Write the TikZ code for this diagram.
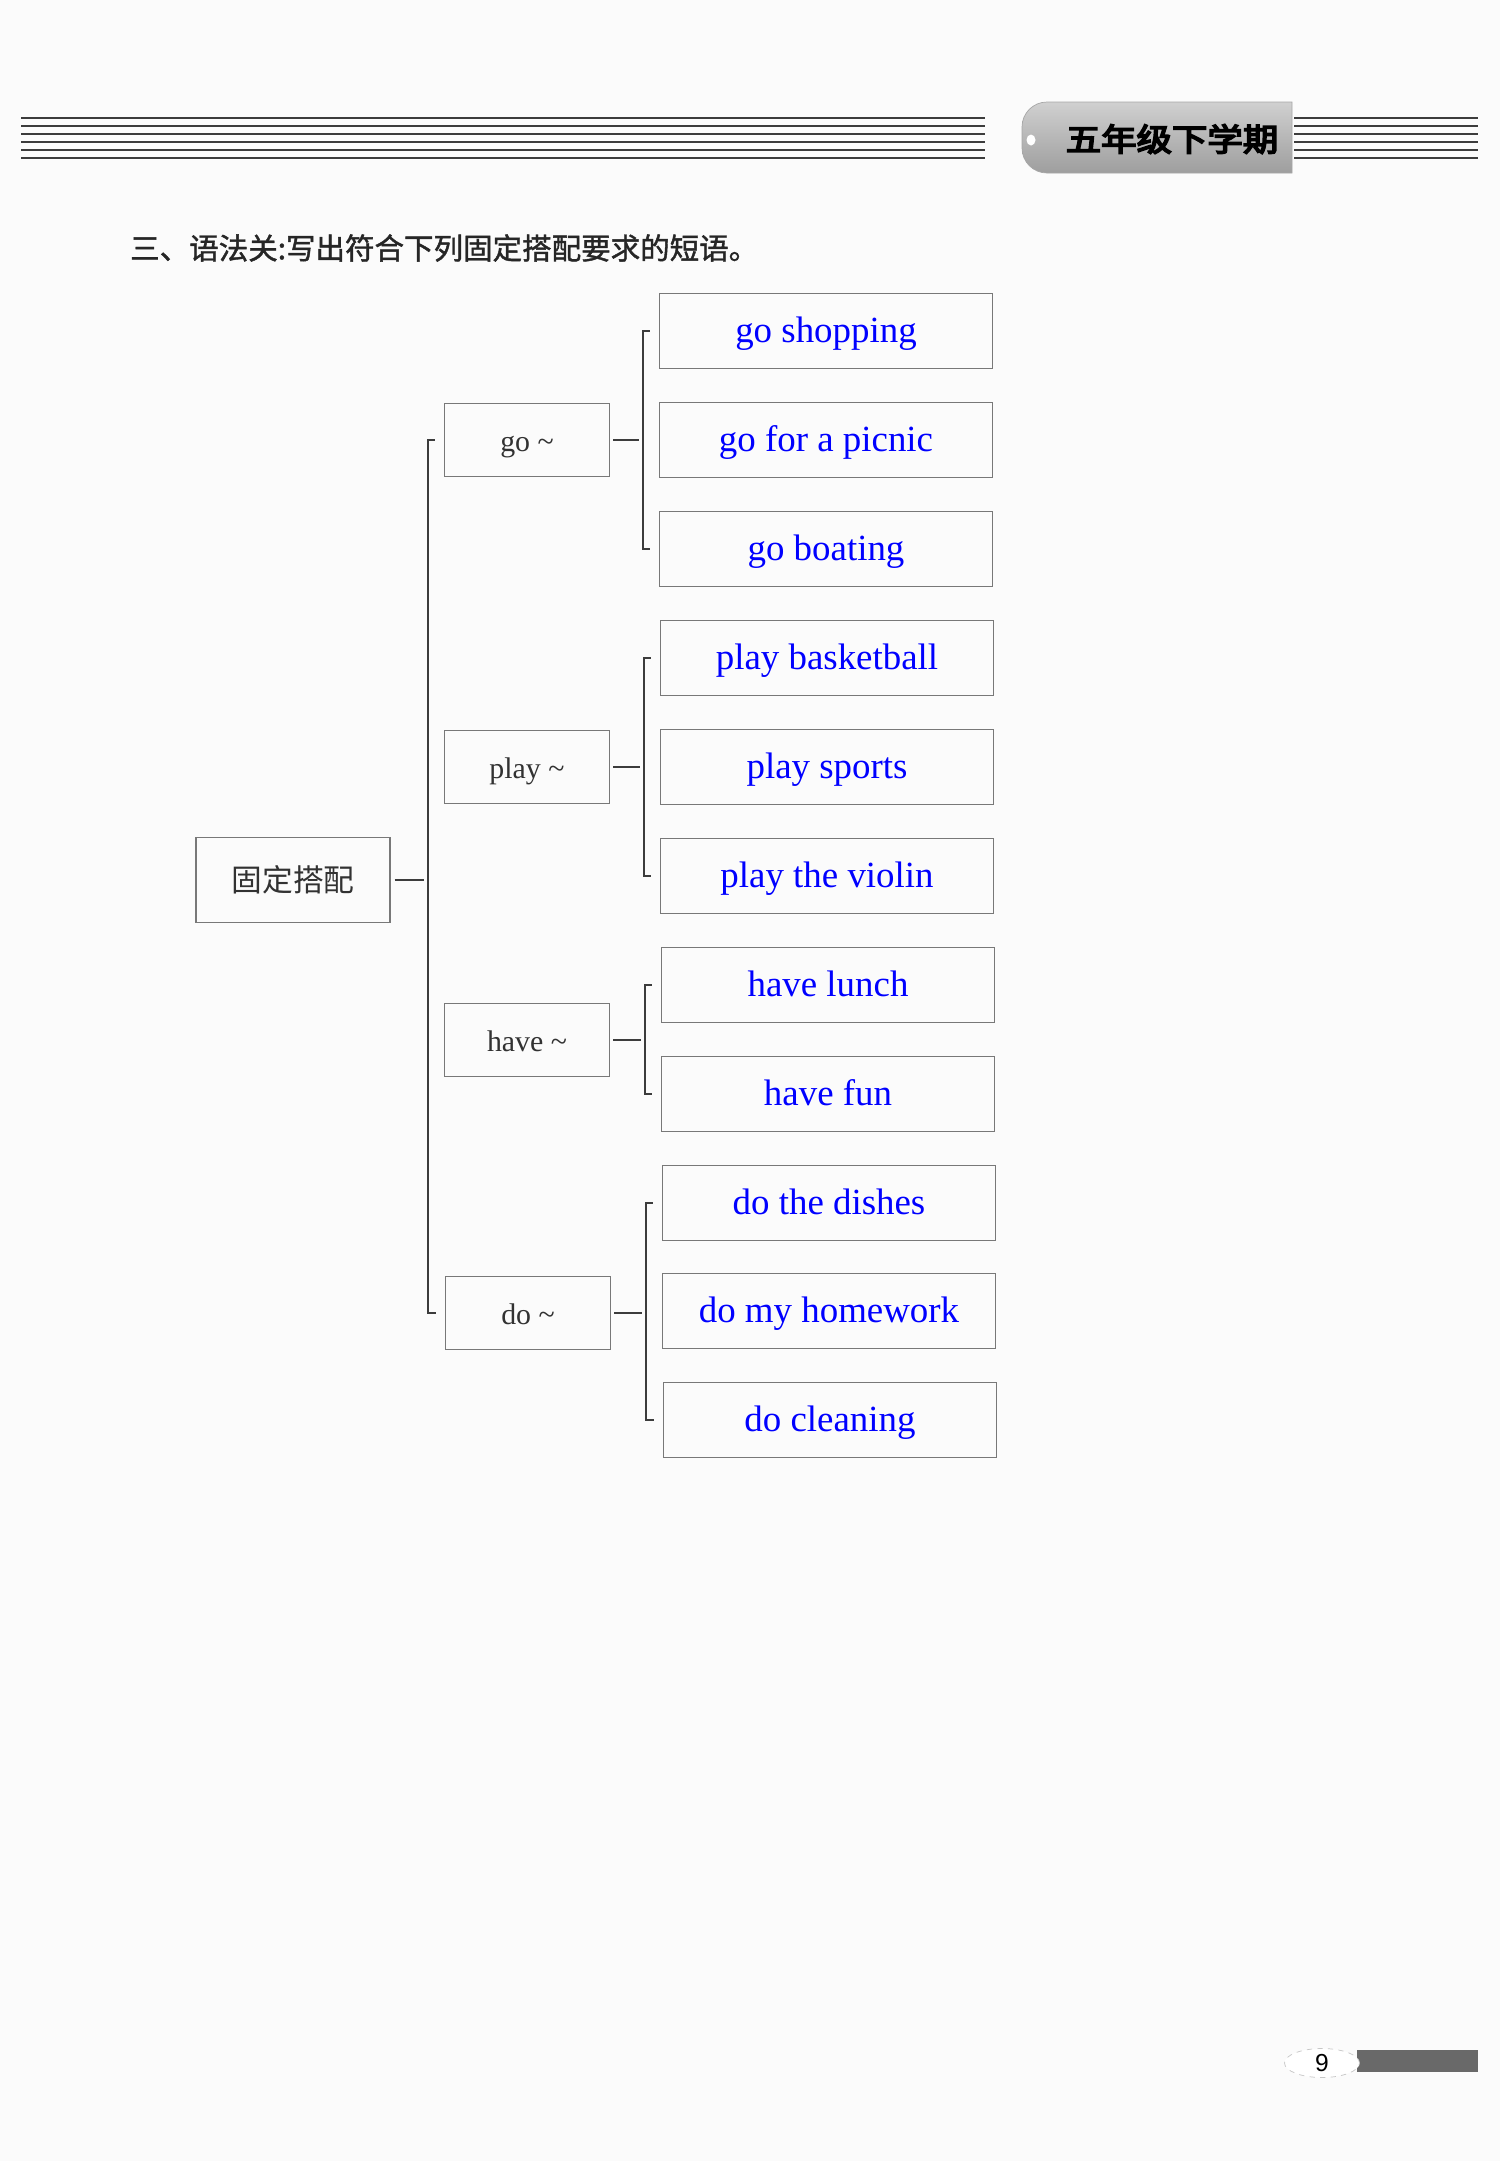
\documentclass[tikz,border=0pt]{standalone}
\usepackage{fontspec}
\setmainfont{Liberation Serif}
\newfontfamily\cjkfont{Noto Sans CJK SC}
\newfontfamily\cjkbold[FakeBold=1.4]{Noto Sans CJK SC}
\newfontfamily\cjkheavy[FakeBold=5]{Noto Sans CJK SC}
\newfontfamily\numfont{Liberation Sans}
\usepackage{tikz}
\usetikzlibrary{shapes.geometric, calc}
\definecolor{pagebg}{RGB}{251,251,251}
\definecolor{boxgray}{RGB}{120,120,120}
\definecolor{linedark}{RGB}{60,60,60}
\definecolor{ansblue}{RGB}{0,0,255}
\definecolor{verbgray}{RGB}{50,50,50}
\definecolor{tablight}{RGB}{208,208,208}
\definecolor{tabdark}{RGB}{158,158,158}
\definecolor{bargray}{RGB}{105,105,105}
\tikzset{
  leafbox/.style={rectangle, draw=boxgray, line width=0.8pt, inner sep=0pt,
    minimum width=6.66cm, minimum height=1.5cm, text=ansblue,
    font=\fontsize{21}{25}\selectfont, text height=1.55em, text depth=0.19em},
  verbbox/.style={rectangle, draw=boxgray, line width=0.8pt, inner sep=0pt,
    minimum width=3.3cm, minimum height=1.46cm, text=verbgray,
    font=\fontsize{17}{20}\selectfont, text height=1.5em, text depth=0.19em},
  rootbox/.style={rectangle, draw=boxgray, line width=0.8pt, inner sep=0pt,
    minimum width=3.88cm, minimum height=1.7cm, text=verbgray,
    font=\cjkfont\fontsize{17.5}{21}\selectfont, text height=1.45em, text depth=0.19em},
  line/.style={line width=1.1pt, color=linedark},
  hdrline/.style={line width=1.4pt, color=linedark}
}

\begin{document}
\begin{tikzpicture}[x=0.02cm, y=-0.02cm]
  \useasboundingbox (0,0) rectangle (1500,2161);
  \fill[pagebg] (0,0) rectangle (1500,2161);

  % header
  \foreach \y in {118,126,134,142,150,158}{
    \draw[hdrline] (21,\y) -- (985,\y);
    \draw[hdrline] (1294,\y) -- (1478,\y);
  }
  \shade[top color=tablight, bottom color=tabdark, draw=gray!70]
    (1292,102) [rounded corners=0.5cm] -- (1022,102) -- (1022,173)
    [sharp corners] -- (1292,173) -- cycle;
  \fill[white] (1031,140) ellipse [x radius=0.09cm, y radius=0.11cm];
  \node[font=\cjkheavy\fontsize{18}{20}\selectfont, xscale=1.12] (term) at (1172,139) {五年级下学期};

  \node[anchor=west, font=\cjkbold\fontsize{16.8}{20}\selectfont, text=black!85] (title) at (124,248)
    {三、语法关:写出符合下列固定搭配要求的短语。};

  \node[rootbox] (root) at (293,880) {固定搭配};

  \node[verbbox] (go) at (527,440) {go \textasciitilde};
  \node[verbbox] (play) at (527,767) {play \textasciitilde};
  \node[verbbox] (have) at (527,1040) {have \textasciitilde};
  \node[verbbox] (do) at (528,1313) {do \textasciitilde};

  \node[leafbox] (goshop) at (826,331) {go shopping};
  \node[leafbox] (gopicnic) at (826,440) {go for a picnic};
  \node[leafbox] (goboat) at (826,549) {go boating};
  \node[leafbox] (playball) at (827,658) {play basketball};
  \node[leafbox] (playsport) at (827,767) {play sports};
  \node[leafbox] (playviolin) at (827,876) {play the violin};
  \node[leafbox] (havelunch) at (828,985) {have lunch};
  \node[leafbox] (havefun) at (828,1094) {have fun};
  \node[leafbox] (dodish) at (829,1203) {do the dishes};
  \node[leafbox] (dowork) at (829,1311) {do my homework};
  \node[leafbox] (doclean) at (830,1420) {do cleaning};

  % trunk
  \coordinate (trunk) at (428,880);
  \draw[line] ($(go.west)+(-9,0)$) -| (trunk) |- ($(do.west)+(-9,0)$);
  \draw[line] ($(root.east)+(4,0)$) -- ($(trunk)+(-4,0)$);

  % brackets
  \coordinate (gojoin) at ($(go.east)+(33,0)$);
  \coordinate (playjoin) at ($(play.east)+(34,0)$);
  \coordinate (havejoin) at ($(have.east)+(35,0)$);
  \coordinate (dojoin) at ($(do.east)+(35,0)$);
  \draw[line] ($(goshop.west)+(-9,0)$) -| (gojoin) |- ($(goboat.west)+(-9,0)$);
  \draw[line] ($(playball.west)+(-9,0)$) -| (playjoin) |- ($(playviolin.west)+(-9,0)$);
  \draw[line] ($(havelunch.west)+(-9,0)$) -| (havejoin) |- ($(havefun.west)+(-9,0)$);
  \draw[line] ($(dodish.west)+(-9,0)$) -| (dojoin) |- ($(doclean.west)+(-9,0)$);
  \draw[line] ($(go.east)+(3,0)$) -- ($(gojoin)+(-4,0)$);
  \draw[line] ($(play.east)+(3,0)$) -- ($(playjoin)+(-4,0)$);
  \draw[line] ($(have.east)+(3,0)$) -- ($(havejoin)+(-4,0)$);
  \draw[line] ($(do.east)+(3,0)$) -- ($(dojoin)+(-4,0)$);

  % page number
  \fill[bargray] (1357,2050) rectangle (1478,2072);
  \node[ellipse, draw=gray!45, dashed, fill=white, inner sep=0pt, minimum width=1.5cm, minimum height=0.58cm,
    font=\numfont\fontsize{14}{16}\selectfont] (pagenum) at (1322,2063) {9};
\end{tikzpicture}
\end{document}
